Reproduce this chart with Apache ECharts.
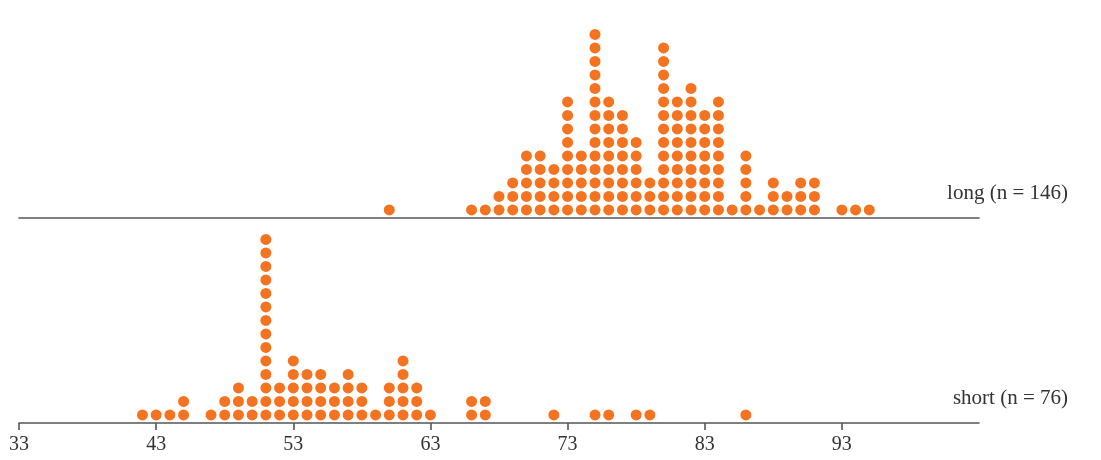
<!DOCTYPE html>
<html>
<head>
<meta charset="utf-8">
<script src="https://cdn.jsdelivr.net/npm/echarts@6/dist/echarts.min.js"></script>
<style>
  html, body { margin: 0; padding: 0; background: #fff; }
  #main { width: 1101px; height: 460px; }
</style>
</head>
<body>
<div id="main"></div>
<script>
// waiting times (minutes) and how many dots stack at each
var longValues = [60, 66, 67, 68, 69, 70, 71, 72, 73, 74, 75, 76, 77, 78, 79, 80, 81, 82, 83, 84, 85, 86, 87, 88, 89, 90, 91, 93, 94, 95];
var longCounts = [1, 1, 1, 2, 3, 5, 5, 4, 9, 5, 14, 9, 8, 6, 3, 13, 9, 10, 8, 9, 1, 5, 1, 3, 2, 3, 3, 1, 1, 1];
var shortValues = [42, 43, 44, 45, 47, 48, 49, 50, 51, 52, 53, 54, 55, 56, 57, 58, 59, 60, 61, 62, 63, 66, 67, 72, 75, 76, 78, 79, 86];
var shortCounts = [1, 1, 1, 2, 1, 2, 3, 2, 14, 3, 5, 4, 4, 3, 4, 3, 1, 3, 5, 3, 1, 2, 2, 1, 1, 1, 1, 1, 1];
var tickValues = [33, 43, 53, 63, 73, 83, 93];
var groupLabels = ['long (n = 146)', 'short (n = 76)'];

function stackDots(values, counts) {
  var pts = [];
  values.forEach(function (v, i) {
    for (var k = 0; k < counts[i]; k++) pts.push([v, k]);
  });
  return pts;
}

var chart = echarts.init(document.getElementById('main'));
var serif = '"Liberation Serif", "DejaVu Serif", serif';
var dotColor = '#F47321';
var lineStyle = { color: '#555', width: 1.6 };

var xBase = { type: 'value', min: 33, max: 103, splitLine: { show: false } };
var yBase = { type: 'value', min: -0.6, max: 14, show: false };

chart.setOption({
  animation: false,
  grid: [
    { left: 19, right: 122, top: 20.9, bottom: 242 },
    { left: 19, right: 122, top: 225.9, bottom: 37 }
  ],
  xAxis: [
    Object.assign({}, xBase, {
      gridIndex: 0,
      axisLine: { show: true, onZero: false, lineStyle: lineStyle },
      axisTick: { show: false },
      axisLabel: { show: false }
    }),
    Object.assign({}, xBase, {
      gridIndex: 1,
      axisLine: { show: true, onZero: false, lineStyle: lineStyle },
      axisTick: { show: true, length: 7, customValues: tickValues, lineStyle: lineStyle },
      axisLabel: { show: true, customValues: tickValues, margin: 12, fontFamily: serif, fontSize: 20, color: '#333' }
    })
  ],
  yAxis: [
    Object.assign({}, yBase, { gridIndex: 0 }),
    Object.assign({}, yBase, { gridIndex: 1 })
  ],
  series: [
    {
      type: 'scatter', xAxisIndex: 0, yAxisIndex: 0,
      symbolSize: 11, itemStyle: { color: dotColor, opacity: 1 },
      data: stackDots(longValues, longCounts)
    },
    {
      type: 'scatter', xAxisIndex: 1, yAxisIndex: 1,
      symbolSize: 11, itemStyle: { color: dotColor, opacity: 1 },
      data: stackDots(shortValues, shortCounts)
    }
  ],
  graphic: [
    { type: 'text', right: 33, top: 183, style: { text: groupLabels[0], font: '21px ' + serif, fill: '#333' } },
    { type: 'text', right: 33, top: 388, style: { text: groupLabels[1], font: '21px ' + serif, fill: '#333' } }
  ]
});
</script>
</body>
</html>
